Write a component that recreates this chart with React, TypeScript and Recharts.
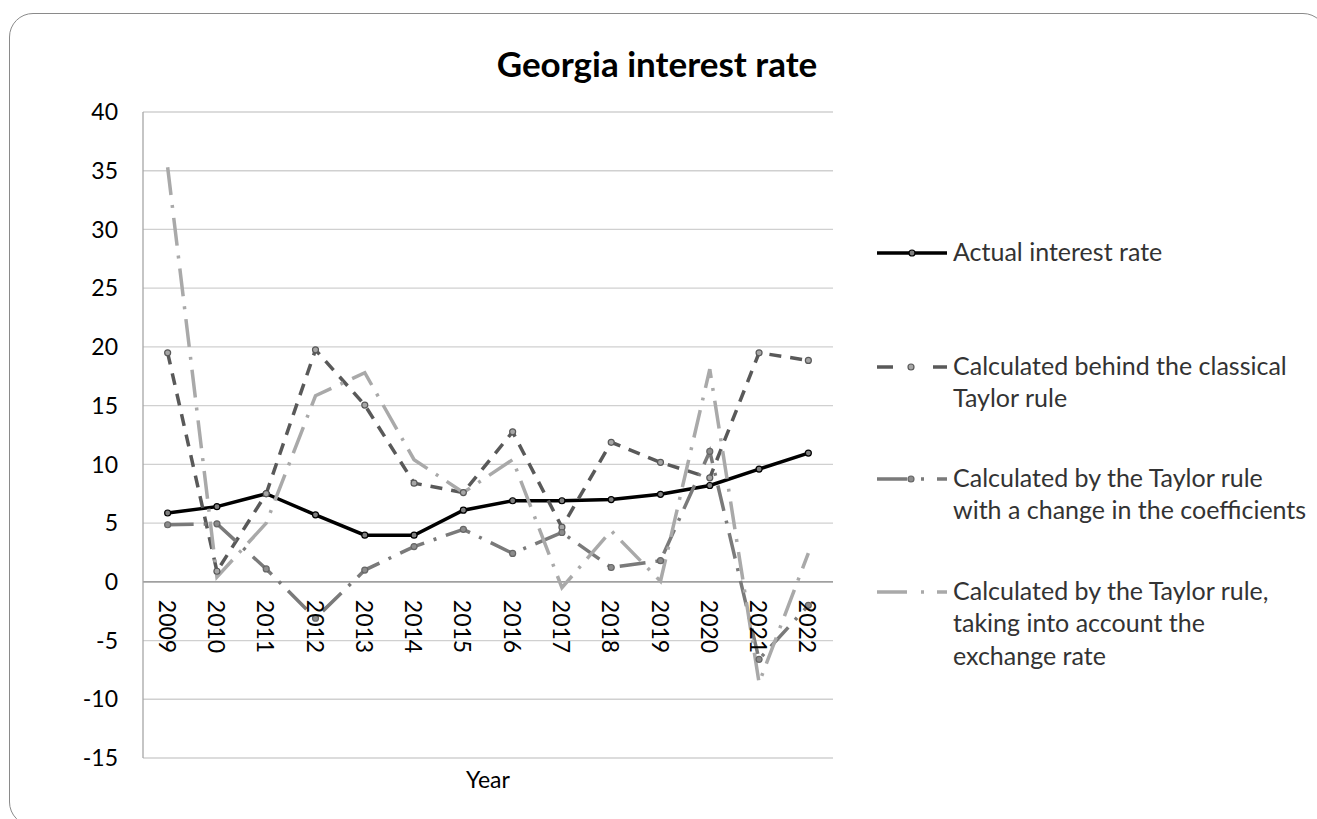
import React from 'react';
import { LineChart, Line, XAxis, YAxis, CartesianGrid, ReferenceLine } from 'recharts';

// Georgia: actual policy rate vs. Taylor-rule estimates, 2009–2022 (%)
const years = ['2009', '2010', '2011', '2012', '2013', '2014', '2015', '2016', '2017', '2018', '2019', '2020', '2021', '2022'];
const actualRate = [5.86, 6.4, 7.5, 5.7, 3.97, 3.97, 6.1, 6.9, 6.9, 7.0, 7.45, 8.2, 9.6, 10.96];
const classicalTaylor = [19.5, 0.9, 7.5, 19.75, 15.05, 8.4, 7.6, 12.77, 4.65, 11.88, 10.17, 8.85, 19.5, 18.85];
const coefficientTaylor = [4.86, 4.94, 1.1, -3.1, 1.0, 3.0, 4.47, 2.42, 4.2, 1.22, 1.8, 11.1, -6.6, -2.0];
const exchangeTaylor = [35.3, 0.4, 5.0, 15.84, 17.8, 10.4, 7.6, 10.4, -0.5, 4.35, 0.05, 18.1, -8.6, 2.45];
const yTicks = [-15, -10, -5, 0, 5, 10, 15, 20, 25, 30, 35, 40];

const chartTitle = 'Georgia interest rate';
const xAxisTitle = 'Year';
const legendLines = [
  ['Actual interest rate'],
  ['Calculated behind the classical', 'Taylor rule'],
  ['Calculated by the Taylor rule', 'with a change in the coefficients'],
  ['Calculated by the Taylor rule,', 'taking into account the', 'exchange rate'],
];

const W = 1317;
const H = 819;
const X_AXIS_HEIGHT = 61;
const MARGIN = { top: 112, right: 484, bottom: 0, left: 0 };
const Y_AXIS_WIDTH = 143;
const Y_MIN = -15;
const Y_MAX = 40;
const FONT = 'Lato, "Open Sans", sans-serif';
const TICK_SIZE = 23;

const data = years.map((year, i) => ({
  year,
  actual: actualRate[i],
  classical: classicalTaylor[i],
  coefficients: coefficientTaylor[i],
  exchange: exchangeTaylor[i],
}));

const STYLES = [
  { key: 'actual', color: '#000000', dash: undefined, markerFill: '#7f7f7f', markerStroke: '#000000', marker: true },
  { key: 'classical', color: '#595959', dash: '12 9', markerFill: '#a6a6a6', markerStroke: '#595959', marker: true },
  { key: 'coefficients', color: '#7a7a7a', dash: '26 10 3 10', markerFill: '#8c8c8c', markerStroke: '#666666', marker: true },
  { key: 'exchange', color: '#a9a9a9', dash: '28 10 3 10', markerFill: '#a9a9a9', markerStroke: '#a9a9a9', marker: false },
];

// legend sample patterns over a 70px swatch
const LEGEND_DASH = [undefined, '16 40 14', '30 14 3 13 10', '30 14 3 13 10'];

// the category labels hang just below the zero line, rotated
function YearTick(props: any) {
  const { x, payload } = props;
  const plotH = H - MARGIN.top - MARGIN.bottom - X_AXIS_HEIGHT;
  const zeroY = MARGIN.top + (plotH * (Y_MAX - 0)) / (Y_MAX - Y_MIN);
  const ty = zeroY + 18;
  return (
    <text
      x={x}
      y={ty}
      transform={`rotate(90 ${x} ${ty})`}
      textAnchor="start"
      dominantBaseline="central"
      fontSize={TICK_SIZE}
      fontFamily={FONT}
      fill="#000"
    >
      {payload.value}
    </text>
  );
}

function LegendBlock() {
  const lineY = [253, 367, 479, 592];
  const baseY = [[261], [375, 407], [487, 519], [600, 632, 665]];
  return (
    <g>
      {STYLES.map((s, i) => (
        <g key={s.key}>
          <line
            x1={877}
            x2={947}
            y1={lineY[i]}
            y2={lineY[i]}
            stroke={s.color}
            strokeWidth={3.5}
            strokeDasharray={LEGEND_DASH[i]}
          />
          {s.marker && (
            <circle cx={i === 0 ? 912 : 911} cy={lineY[i]} r={3} fill={s.markerFill} stroke={s.markerStroke} strokeWidth={1.2} />
          )}
          {legendLines[i].map((t, j) => (
            <text key={j} x={953} y={baseY[i][j]} fontSize={25} fontFamily={FONT} fill="#333333">
              {t}
            </text>
          ))}
        </g>
      ))}
    </g>
  );
}

export default function App() {
  return (
    <div style={{ position: 'absolute', left: 0, top: 0, width: W, height: H, overflow: 'hidden', background: '#fff' }}>
      <div
        style={{
          position: 'absolute',
          left: 9,
          top: 13,
          width: 1318,
          height: 813,
          border: '1.5px solid #8a8a8a',
          borderRadius: 24,
          boxSizing: 'border-box',
        }}
      />
      <div style={{ position: 'absolute', left: 0, top: 0 }}>
        <LineChart width={W} height={H} data={data} margin={MARGIN}>
          <CartesianGrid vertical={false} stroke="#d0d0d0" strokeWidth={1.3} />
          <XAxis
            dataKey="year"
            scale="band"
            axisLine={false}
            tickLine={false}
            interval={0}
            height={X_AXIS_HEIGHT}
            tick={(p: any) => <YearTick {...p} />}
            label={{ value: xAxisTitle, position: 'insideBottom', offset: 31, fontSize: TICK_SIZE, fill: '#000', fontFamily: FONT }}
          />
          <YAxis
            type="number"
            domain={[Y_MIN, Y_MAX]}
            ticks={yTicks}
            interval={0}
            width={Y_AXIS_WIDTH}
            tickSize={0}
            tickMargin={25}
            tickLine={false}
            axisLine={{ stroke: '#a6a6a6', strokeWidth: 1.3 }}
            tick={{ fill: '#000', fontSize: TICK_SIZE, fontFamily: FONT }}
            allowDataOverflow
          />
          <ReferenceLine y={0} stroke="#8c8c8c" strokeWidth={1.3} />
          {STYLES.map((s) => (
            <Line
              key={s.key}
              type="linear"
              dataKey={s.key}
              stroke={s.color}
              strokeWidth={3.5}
              strokeDasharray={s.dash}
              strokeLinecap="butt"
              dot={
                s.marker
                  ? { r: 3, fill: s.markerFill, stroke: s.markerStroke, strokeWidth: 1.2, strokeDasharray: 'none' }
                  : false
              }
              activeDot={false}
              isAnimationActive={false}
            />
          ))}
        </LineChart>
      </div>
      <svg width={W} height={H} style={{ position: 'absolute', left: 0, top: 0, pointerEvents: 'none' }}>
        <text x={657} y={77} textAnchor="middle" fontSize={35} fontWeight={700} fontFamily={FONT} fill="#000">
          {chartTitle}
        </text>
        <LegendBlock />
      </svg>
    </div>
  );
}
